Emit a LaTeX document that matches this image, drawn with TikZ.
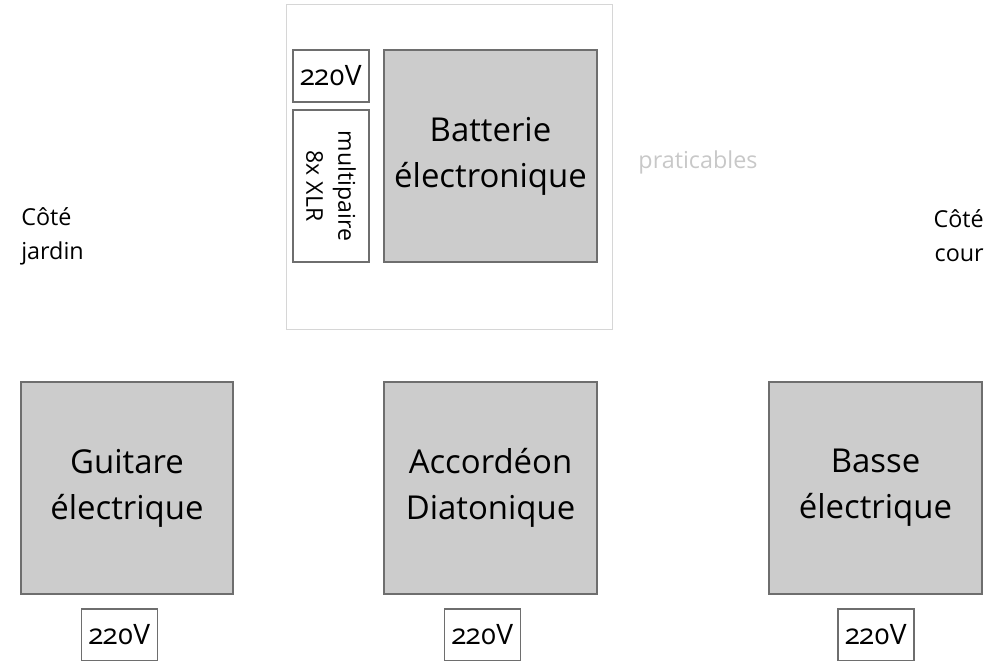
\documentclass[tikz,border=0pt]{standalone}
\usepackage{fontspec}
\setmainfont{Open Sans}[Numbers=OldStyle]
\usepackage{xcolor}
\usepackage{tikz}
\usetikzlibrary{positioning}
\definecolor{boxfill}  {RGB}{204,204,204}
\definecolor{boxline}  {RGB}{110,110,110}
\definecolor{stagegray}{RGB}{214,214,214}
\definecolor{labelgray}{RGB}{200,200,200}

\begin{document}
\begin{tikzpicture}[
  x=0.025cm, y=-0.025cm,
  instru/.style={rectangle, draw=boxline, fill=boxfill, line width=1.4pt,
                 minimum width=5.3cm, minimum height=5.3cm, inner sep=0pt,
                 align=center, font=\fontsize{23.4}{32.7}\selectfont},
  prise/.style ={rectangle, draw=boxline, fill=white, line width=1.1pt,
                 minimum width=1.9cm, minimum height=1.3cm, inner sep=0pt,
                 font=\fontsize{20}{22}\selectfont},
  cable/.style ={rectangle, draw=boxline, fill=white, line width=1.1pt,
                 minimum width=1.9cm, minimum height=3.8cm, inner sep=0pt},
  side/.style  ={inner sep=0pt, font=\fontsize{16.6}{24}\selectfont},
]
\useasboundingbox (0,0) rectangle (1006,661);
\clip (0,0) rectangle (1006,661);

%-- praticables (drum riser)
\node[draw=stagegray, line width=0.6pt, minimum width=8.15cm,
      minimum height=8.125cm, inner sep=0pt] (pratic) at (449,166.5) {};
\node[side, text=labelgray] (praticlbl) at (698,162) {praticables};

\node[instru] (batterie) at (490.5,156) {Batterie\\électronique};
\node[prise]  (priseB)   at (331,76)    {220V};
\node[cable]  (multi)    at (331,186)   {};
\node[rotate=-90, align=center, inner sep=0pt,
      font=\fontsize{16.4}{22.8}\selectfont] (multilbl) at (multi.center)
      {multipaire\\8x XLR};

%-- stage sides
\node[side, anchor=west, align=left]  (jardin) at (21,236)  {Côté\\jardin};
\node[side, anchor=east, align=right] (cour)   at (984,236) {Côté\\cour};

%-- front line
\node[instru] (guitare)   at (127,488)   {Guitare\\électrique};
\node[instru] (accordeon) at (490.5,488) {Accordéon\\Diatonique};
\node[instru] (basse)     at (875.5,488) {Basse\\électrique};

\node[prise] (priseG) at (119.5,635) {220V};
\node[prise] (priseA) at (482.5,635) {220V};
\node[prise] (priseS) at (876,635)   {220V};

\end{tikzpicture}
\end{document}
